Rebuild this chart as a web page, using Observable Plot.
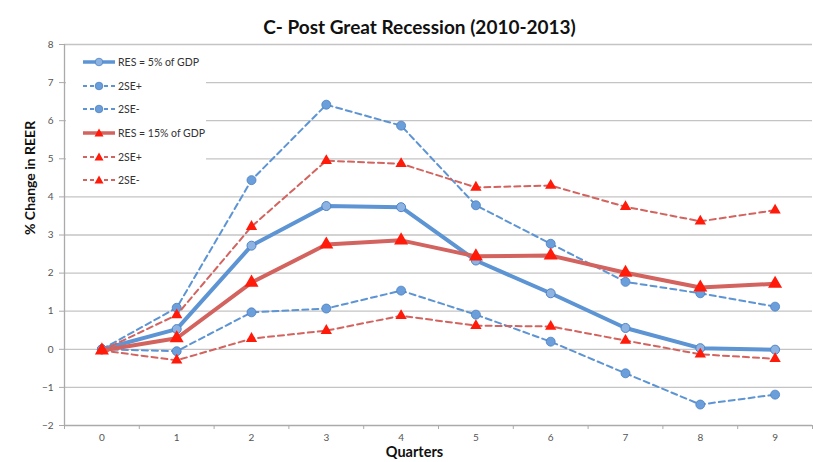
<!DOCTYPE html>
<html>
<head>
<meta charset="utf-8">
<script src="https://cdn.jsdelivr.net/npm/d3@7"></script>
<script src="https://cdn.jsdelivr.net/npm/@observablehq/plot@0.6"></script>
<style>
  html, body { margin: 0; padding: 0; background: #fff; }
  #wrap { position: relative; width: 813px; height: 462px; font-family: Lato, "Open Sans", sans-serif; }
  #legend { position: absolute; left: 66px; top: 50px; width: 140px; height: 140px; background: #fff; }
  .row { position: absolute; left: 16px; height: 14px; display: flex; align-items: center; font-size: 10.5px; color: #333; white-space: nowrap; }
  .row svg { margin-right: 2px; }
</style>
</head>
<body>
<div id="wrap"></div>
<script>
const quarters = [0, 1, 2, 3, 4, 5, 6, 7, 8, 9];
const res5 = [0, 0.53, 2.72, 3.76, 3.73, 2.33, 1.47, 0.56, 0.03, -0.01];
const res5Up = [0, 1.09, 4.44, 6.42, 5.87, 3.78, 2.77, 1.77, 1.47, 1.12];
const res5Lo = [0, -0.05, 0.97, 1.07, 1.54, 0.91, 0.20, -0.63, -1.45, -1.19];
const res15 = [-0.03, 0.29, 1.75, 2.75, 2.86, 2.44, 2.46, 2.01, 1.62, 1.72];
const res15Up = [-0.03, 0.90, 3.22, 4.95, 4.87, 4.25, 4.30, 3.74, 3.36, 3.65];
const res15Lo = [-0.03, -0.29, 0.28, 0.49, 0.88, 0.62, 0.60, 0.23, -0.13, -0.25];
const yTicks = [-2, -1, 0, 1, 2, 3, 4, 5, 6, 7, 8];
const legendLabels = ["RES = 5% of GDP", "2SE+", "2SE-", "RES = 15% of GDP", "2SE+", "2SE-"];
const titleText = "C- Post Great Recession (2010-2013)";
const yLabel = "% Change in REER";
const xLabel = "Quarters";

const blue = "#5d94d3";
const blueDot = "#6b9fdb";
const blueDotStroke = "#4a7fc0";
const redLine = "#d2635e";
const redTri = "#ff1a0a";

const toRows = (vals) => quarters.map((q, i) => ({q, v: vals[i]}));
const boundaries = d3.range(-0.5, 10, 1);

const font = "Lato, 'Open Sans', sans-serif";

const chart = Plot.plot({
  width: 813,
  height: 462,
  marginLeft: 64,
  marginRight: 1,
  marginTop: 44,
  marginBottom: 37,
  style: {fontFamily: font, background: "#fff"},
  x: {type: "linear", domain: [-0.5, 9.5]},
  y: {domain: [-2, 8]},
  marks: [
    Plot.gridY(yTicks.filter(d => d > -2), {stroke: "#c4c4c4", strokeOpacity: 1, strokeWidth: 1.3}),
    Plot.ruleY([-2], {stroke: "#aaa", strokeWidth: 1.3}),
    Plot.ruleX([-0.5], {stroke: "#aaa", strokeWidth: 1.3}),
    Plot.axisY({ticks: yTicks, tickSize: 5, stroke: "#aaa", tickPadding: 6, fontSize: 10, color: "#555", label: null}),
    Plot.axisX({ticks: boundaries, tickSize: 4, stroke: "#aaa", tickFormat: () => "", label: null}),
    Plot.axisX({ticks: quarters, tickSize: 0, tickPadding: 8, fontSize: 10, color: "#555", label: null}),
    // blue dashed
    Plot.line(toRows(res5Up), {x: "q", y: "v", stroke: blue, strokeWidth: 2, strokeDasharray: "6,4"}),
    Plot.line(toRows(res5Lo), {x: "q", y: "v", stroke: blue, strokeWidth: 2, strokeDasharray: "6,4"}),
    Plot.dot(toRows(res5Up), {x: "q", y: "v", r: 4.5, fill: blueDot, stroke: blueDotStroke, strokeWidth: 0.8}),
    Plot.dot(toRows(res5Lo), {x: "q", y: "v", r: 4.5, fill: blueDot, stroke: blueDotStroke, strokeWidth: 0.8}),
    // blue main
    Plot.line(toRows(res5), {x: "q", y: "v", stroke: blue, strokeWidth: 4}),
    Plot.dot(toRows(res5), {x: "q", y: "v", r: 4.5, fill: "#8db3e2", stroke: "#4f83c4", strokeWidth: 1}),
    // red dashed
    Plot.line(toRows(res15Up), {x: "q", y: "v", stroke: redLine, strokeWidth: 2, strokeDasharray: "6,4"}),
    Plot.line(toRows(res15Lo), {x: "q", y: "v", stroke: redLine, strokeWidth: 2, strokeDasharray: "6,4"}),
    Plot.dot(toRows(res15Up), {x: "q", y: "v", r: 4.2, symbol: "triangle", fill: redTri, stroke: "none"}),
    Plot.dot(toRows(res15Lo), {x: "q", y: "v", r: 4.2, symbol: "triangle", fill: redTri, stroke: "none"}),
    // red main
    Plot.line(toRows(res15), {x: "q", y: "v", stroke: redLine, strokeWidth: 4}),
    Plot.dot(toRows(res15), {x: "q", y: "v", r: 5.2, symbol: "triangle", fill: redTri, stroke: "none"}),
    // texts
    Plot.text([titleText], {text: d => d, frameAnchor: "top", dx: -19, dy: -24, fontSize: 19, fontWeight: "bold", fill: "#111"}),
    Plot.text([yLabel], {text: d => d, frameAnchor: "left", dx: -34, rotate: -90, fontSize: 14, fontWeight: "bold", fill: "#111"}),
    Plot.text([xLabel], {text: d => d, frameAnchor: "bottom", dx: -24, dy: 31, fontSize: 14.5, fontWeight: "bold", fill: "#111"})
  ]
});

const wrap = document.getElementById("wrap");
wrap.appendChild(chart);

// legend inside plot area
const legend = document.createElement("div");
legend.id = "legend";
const styles = [
  {c: blue, w: 3.5, dash: null, m: "circle", mf: "#8db3e2", ms: "#4f83c4"},
  {c: blue, w: 2, dash: "4,3", m: "circle", mf: blueDot, ms: blueDotStroke},
  {c: blue, w: 2, dash: "4,3", m: "circle", mf: blueDot, ms: blueDotStroke},
  {c: redLine, w: 3.5, dash: null, m: "tri", mf: redTri},
  {c: redLine, w: 2, dash: "4,3", m: "tri", mf: redTri},
  {c: redLine, w: 2, dash: "4,3", m: "tri", mf: redTri}
];
const rowY = [5, 29, 52, 76, 100, 123];
legendLabels.forEach((lab, i) => {
  const s = styles[i];
  const row = document.createElement("div");
  row.className = "row";
  row.style.top = rowY[i] + "px";
  const marker = s.m === "circle"
    ? `<circle cx="17" cy="7" r="3.8" fill="${s.mf}" stroke="${s.ms}" stroke-width="0.8"/>`
    : `<path d="M17,2.5 L21.5,10.5 L12.5,10.5 Z" fill="${s.mf}"/>`;
  row.innerHTML = `<svg width="34" height="14"><line x1="1" x2="33" y1="7" y2="7" stroke="${s.c}" stroke-width="${s.w}" ${s.dash ? `stroke-dasharray="${s.dash}"` : ""}/>${marker}</svg><span>${lab}</span>`;
  legend.appendChild(row);
});
wrap.appendChild(legend);
</script>
</body>
</html>
